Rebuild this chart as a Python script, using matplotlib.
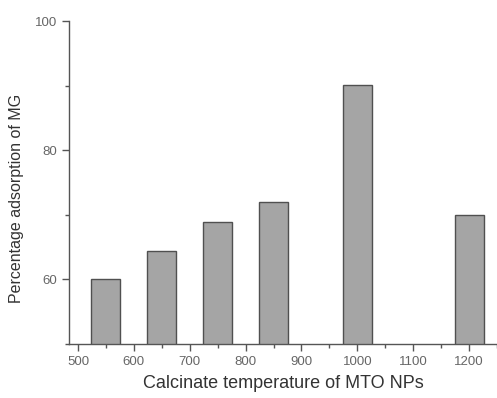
import matplotlib.pyplot as plt
from matplotlib.ticker import MultipleLocator

plt.rcParams['font.family'] = ['Liberation Sans', 'DejaVu Sans']

temps = [550, 650, 750, 850, 1000, 1200]
adsorption = [60.1, 64.4, 68.9, 71.9, 90.1, 69.9]

fig = plt.figure(figsize=(4.97, 3.98), dpi=100)
ax = fig.add_axes([0.139, 0.136, 0.861, 0.811])

ax.bar(temps, adsorption, width=52, color='#a5a5a5', edgecolor='#505050', linewidth=1.0)

ax.set_xlim(484, 1250)
ax.set_ylim(50, 100)
ax.xaxis.set_major_locator(MultipleLocator(100))
ax.xaxis.set_minor_locator(MultipleLocator(50))
ax.yaxis.set_minor_locator(MultipleLocator(10))
ax.set_yticks([60, 80, 100])

for s in ['top', 'right']:
    ax.spines[s].set_visible(False)
for s in ['left', 'bottom']:
    ax.spines[s].set_color('#555555')
    ax.spines[s].set_linewidth(1.0)

ax.tick_params(which='major', direction='out', length=5, width=1, color='#555555',
               labelsize=9.5, labelcolor='#666666')
ax.tick_params(which='minor', direction='out', length=3, width=1, color='#555555')

ax.set_xlabel('Calcinate temperature of MTO NPs', fontsize=13, color='#333333', labelpad=5)
ax.set_ylabel('Percentage adsorption of MG', fontsize=11.5, color='#333333', labelpad=8)
ax.yaxis.set_label_coords(-0.105, 0.45)

fig.savefig('out.png', dpi=100)
